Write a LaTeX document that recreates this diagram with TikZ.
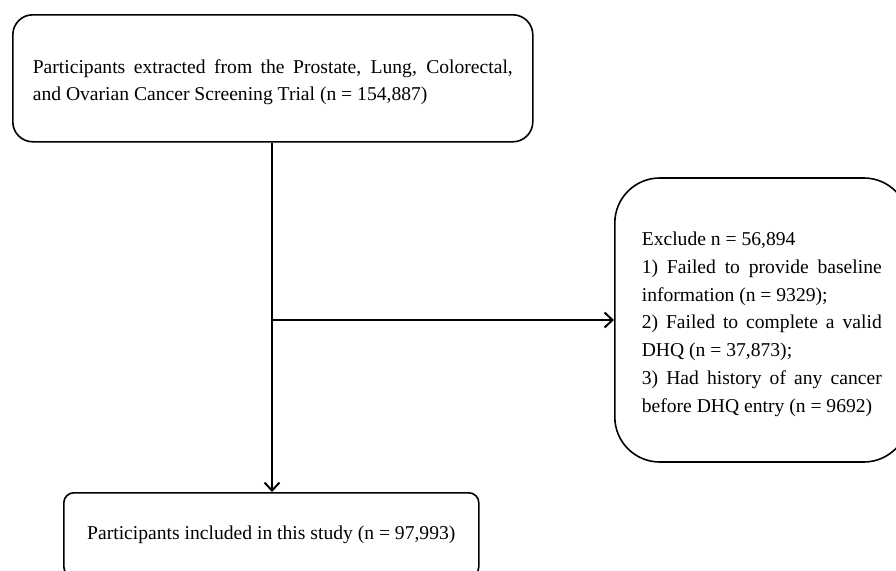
\documentclass[tikz,border=0pt]{standalone}
\usepackage{fontspec}
\setmainfont{Liberation Serif}
\usetikzlibrary{arrows.meta}
\begin{document}
\begin{tikzpicture}[x=1pt,y=1pt,
  boxbase/.style={draw=black, line width=1.6pt, fill=white},
  conn/.style={line width=2pt, -{Straight Barb[length=8pt,width=15pt,line width=2pt]}}]
\useasboundingbox (0,0) rectangle (896,-570);
\clip (0,0) rectangle (896,-570);
\fill[white] (0,0) rectangle (896,-570);
\node[boxbase, rounded corners=20pt, anchor=north west, minimum width=520pt, minimum height=127pt,
  text width=480pt, inner xsep=20pt, align=justify, font=\fontsize{19.6}{27}\selectfont] (top) at (12,-14)
  {\rule{0pt}{22pt}Participants extracted from the Prostate, Lung, Colorectal,\linebreak and Ovarian Cancer Screening Trial (n = 154,887)};
\node[boxbase, rounded corners=45pt, anchor=west, minimum height=284pt,
  text width=240pt, inner xsep=27pt, align=justify, font=\fontsize{19.6}{27.8}\selectfont] (excl) at (614,-320)
  {\rule{0pt}{22pt}Exclude n = 56,894\par
   1) Failed to provide baseline\linebreak information (n = 9329);\par
   2) Failed to complete a valid\linebreak DHQ (n = 37,873);\par
   3) Had history of any cancer\linebreak before DHQ entry (n = 9692)};
\node[boxbase, rounded corners=10pt, anchor=north west, minimum width=415pt, minimum height=84pt,
  font=\fontsize{19.6}{27}\selectfont] (incl) at (63,-492)
  {Participants included in this study (n = 97,993)};
\coordinate (split) at (272,-320);
\draw[conn] (top.south -| split) -- (incl.north -| split);
\draw[conn] (split) -- (excl.west);
\end{tikzpicture}
\end{document}
